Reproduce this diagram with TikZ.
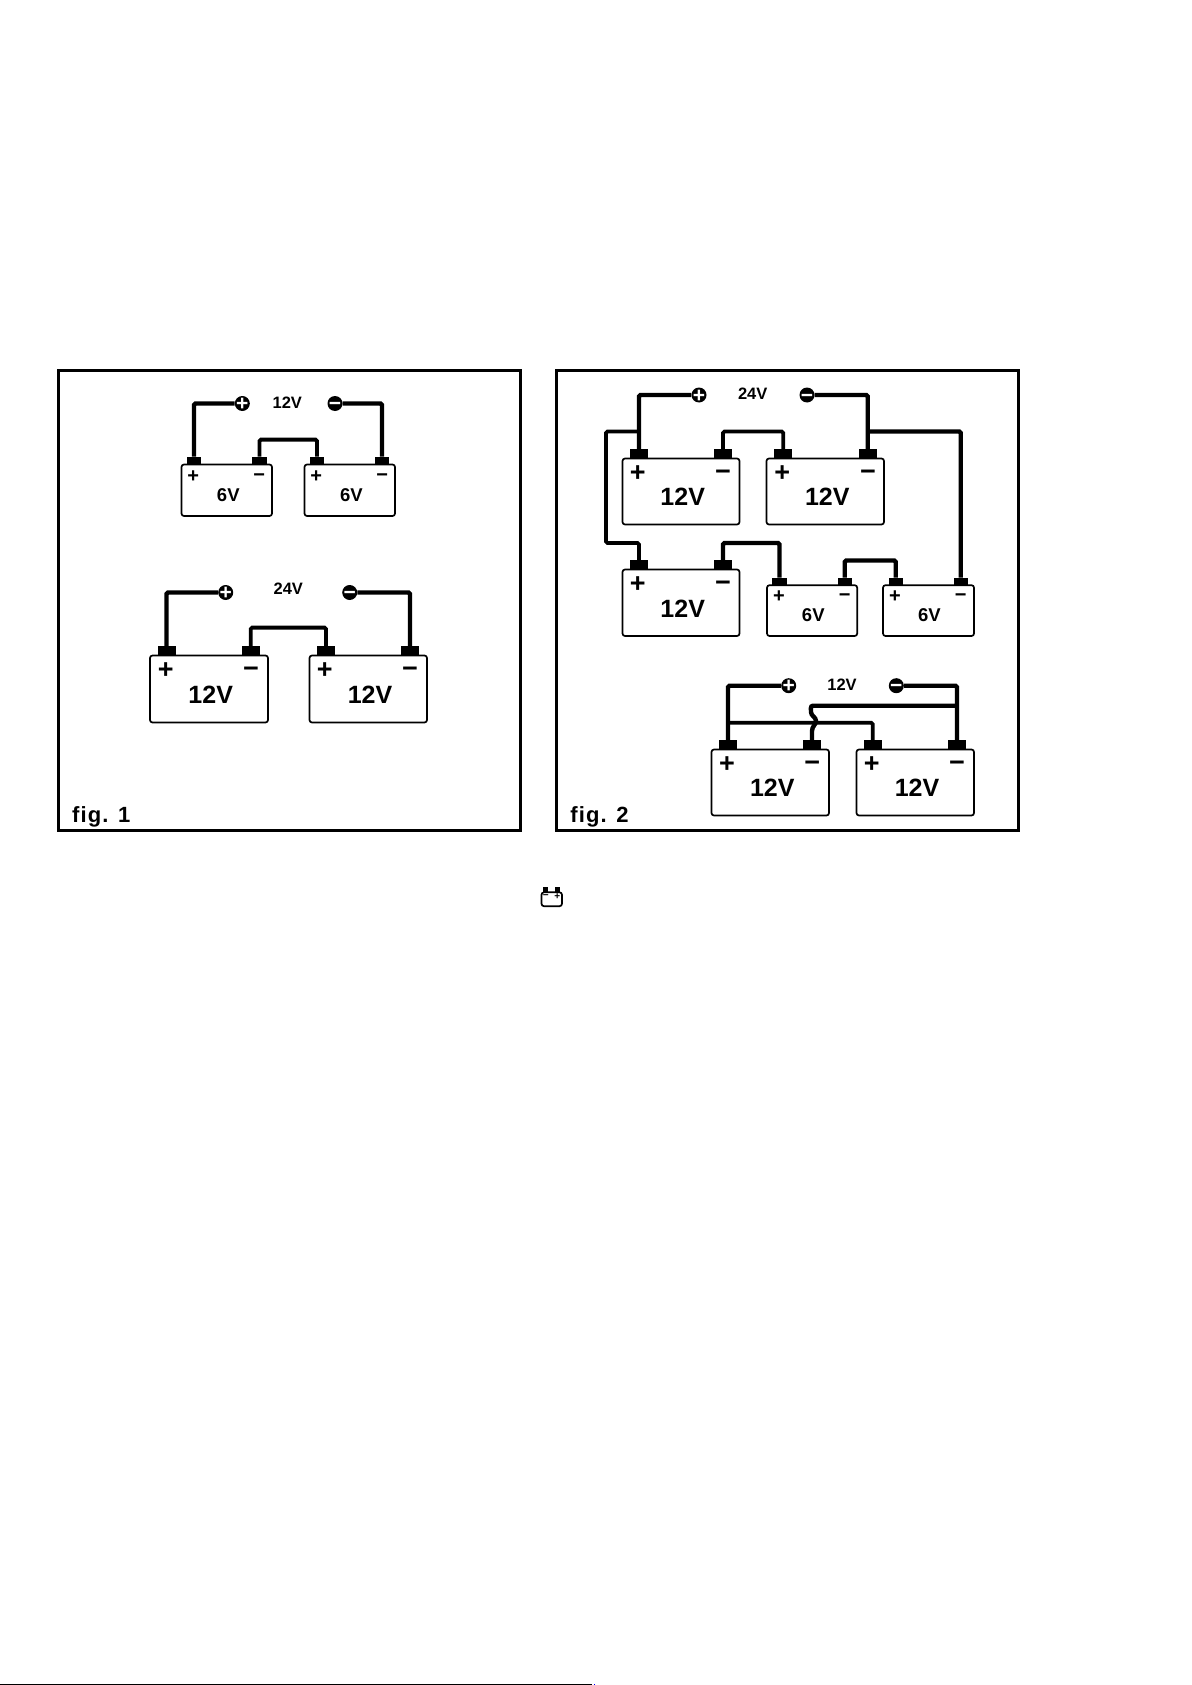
\documentclass[tikz,border=0pt]{standalone}
\usepackage{fontspec}
\setmainfont{Liberation Sans}
\usetikzlibrary{calc}
\newcommand\sgn[1]{\raisebox{-.34em}[0pt][0pt]{#1}}
\newcommand\polesign[1]{{\fontsize{21}{21}\selectfont\bfseries\sgn{#1}}}
\tikzset{
  x=1pt,y=-1pt,
  frame/.style={draw=black,line width=3pt,fill=none},
  batbox/.style={draw=black,line width=1.7pt,rounded corners=2.5pt,inner sep=0pt,fill=white},
  bigterm/.style={fill=black,inner sep=0pt,minimum width=18pt,minimum height=9pt,anchor=south},
  smallterm/.style={fill=black,inner sep=0pt,minimum width=14.3pt,minimum height=7pt,anchor=south},
  wire/.style={draw=black,line width=4.4pt,rounded corners=1.5pt},
  thinwire/.style={draw=black,line width=3.8pt,rounded corners=1.5pt},
  pole/.style={circle,fill=black,inner sep=0pt,minimum size=15pt,text=white},
  lab/.style={inner sep=0pt,font=\fontsize{16.5}{16.5}\selectfont\bfseries},
  bigv/.style={inner sep=0pt,font=\fontsize{25}{25}\selectfont\bfseries},
  smallv/.style={inner sep=0pt,font=\fontsize{18.5}{18.5}\selectfont\bfseries},
  bigsign/.style={inner sep=0pt,font=\fontsize{27}{27}\selectfont\bfseries},
  smallsign/.style={inner sep=0pt,font=\fontsize{20}{20}\selectfont\bfseries},
  iconsign/.style={inner sep=0pt,font=\fontsize{10}{10}\selectfont\bfseries},
  figlab/.style={inner sep=0pt,anchor=base west,font=\fontsize{22}{22}\selectfont\bfseries\addfontfeature{LetterSpace=5}},
}
\newcommand\bat[5]{%
  \pgfmathsetmacro\bw{#4-#2}\pgfmathsetmacro\bh{#5-#3}%
  \pgfmathsetmacro\bx{(#4+#2)/2}\pgfmathsetmacro\by{(#5+#3)/2}%
  \node[batbox,minimum width=\bw pt,minimum height=\bh pt] (#1) at (\bx,\by) {};}
\begin{document}
\begin{tikzpicture}
\useasboundingbox (0,0) rectangle (1191,1685);
\fill[white] (0,0) rectangle (1191,1685);
% frames
\node[frame,inner sep=0pt,minimum width=462pt,minimum height=459.5pt] (f1) at (289,600.5) {};
\node[frame,inner sep=0pt,minimum width=461.5pt,minimum height=459.5pt] (f2) at (787.5,600.5) {};
\node[figlab] (f1l) at (72,822.5) {fig. 1};
\node[figlab] (f2l) at (570.2,822.5) {fig. 2};
% ---- fig 1 top
\bat{a}{181.5}{464.5}{272}{516}
\bat{b}{304.5}{464.5}{395}{516}
\node[smallterm] (ap) at (194,464) {};
\node[smallterm] (am) at (259.5,464) {};
\node[smallterm] (bp) at (317,464) {};
\node[smallterm] (bm) at (382,464) {};
\node[pole] (c1p) at (242.3,403.5) {\polesign{+}};
\node[pole] (c1m) at (335,403.5) {\polesign{−}};
\node[lab] (l1) at (287.3,402.3) {12V};
\draw[wire] (ap.north) |- (c1p.west);
\draw[wire] (bm.north) |- (c1m.east);
\draw[thinwire] (am.north) -- ++(0,-17) -| (bp.north);
\node[smallsign] at (193.3,475.3) {\sgn{+}};
\node[smallsign] at (259.3,474.3) {\sgn{−}};
\node[smallsign] at (316.3,475.3) {\sgn{+}};
\node[smallsign] at (382.3,474.3) {\sgn{−}};
\node[smallv] at (228.3,495) {6V};
\node[smallv] at (351.5,495) {6V};
% ---- fig 1 bottom
\bat{d}{150}{655.5}{268}{722.5}
\bat{e}{309.5}{655.5}{427}{722.5}
\node[bigterm] (dp) at (166.5,655.5) {};
\node[bigterm] (dm) at (250.7,655.5) {};
\node[bigterm] (ep) at (326,655.5) {};
\node[bigterm] (em) at (410,655.5) {};
\node[pole] (c2p) at (225.7,592.5) {\polesign{+}};
\node[pole] (c2m) at (349.7,592.5) {\polesign{−}};
\node[lab] (l2) at (288.3,588.3) {24V};
\draw[wire] (dp.north) |- (c2p.west);
\draw[wire] (em.north) |- (c2m.east);
\draw[thinwire] (dm.north) -- ++(0,-18.5) -| (ep.north);
\node[bigsign] at (165.7,669.3) {\sgn{+}};
\node[bigsign] at (251,668.3) {\sgn{−}};
\node[bigsign] at (324.7,669.3) {\sgn{+}};
\node[bigsign] at (410,668.3) {\sgn{−}};
\node[bigv] at (210.7,694.3) {12V};
\node[bigv] at (370,694.3) {12V};
% ---- fig 2 top
\bat{A}{622.5}{458.5}{739.5}{524.5}
\bat{B}{766.5}{458.5}{884}{524.5}
\bat{C}{622.5}{569.5}{739.5}{636}
\bat{D}{767}{585.2}{857.2}{636}
\bat{E}{883}{585.2}{974}{636}
\node[bigterm] (Ap) at (639,458.5) {};
\node[bigterm] (Am) at (723,458.5) {};
\node[bigterm] (Bp) at (783.3,458.5) {};
\node[bigterm] (Bm) at (867.7,458.5) {};
\node[bigterm] (Cp) at (639,569.5) {};
\node[bigterm] (Cm) at (723,569.5) {};
\node[smallterm] (Dp) at (779.5,585) {};
\node[smallterm] (Dm) at (844.7,585) {};
\node[smallterm] (Ep) at (895.7,585) {};
\node[smallterm] (Em) at (960.7,585) {};
\node[pole] (c3p) at (699,395) {\polesign{+}};
\node[pole] (c3m) at (807,395) {\polesign{−}};
\node[lab] (l3) at (752.7,393.3) {24V};
\draw[wire] (Ap.north) |- (c3p.west);
\draw[wire] (Bm.north) |- (c3m.east);
\coordinate (j1) at (Ap.north |- 0,431.5);
\coordinate (j2) at (Bm.north |- 0,431.5);
\draw[thinwire] (j1) -- (606,431.5) -- (606,543) -| (Cp.north);
\draw[thinwire] (Am.north) -- (723,431.5) -| (Bp.north);
\draw[wire] (j2) -| (Em.north);
\draw[wire] (Cm.north) -- (723,543) -| (Dp.north);
\draw[wire] (Dm.north) -- (844.7,560.5) -| (Ep.north);
\node[bigsign] at (637.7,472) {\sgn{+}};
\node[bigsign] at (723,471) {\sgn{−}};
\node[bigsign] at (782.3,472) {\sgn{+}};
\node[bigsign] at (868,471) {\sgn{−}};
\node[bigsign] at (637.7,583.3) {\sgn{+}};
\node[bigsign] at (723,582.3) {\sgn{−}};
\node[smallsign] at (779,595.7) {\sgn{+}};
\node[smallsign] at (844.7,595) {\sgn{−}};
\node[smallsign] at (895,595.7) {\sgn{+}};
\node[smallsign] at (960.7,595) {\sgn{−}};
\node[bigv] at (682.7,496.7) {12V};
\node[bigv] at (827.3,496.7) {12V};
\node[bigv] at (682.7,608.3) {12V};
\node[smallv] at (813.3,615) {6V};
\node[smallv] at (929.3,615) {6V};
% ---- fig 2 bottom
\bat{F}{711.5}{749.5}{829}{815.5}
\bat{G}{856.5}{749.5}{974}{815.5}
\node[bigterm] (Fp) at (728,749.2) {};
\node[bigterm] (Fm) at (812,749.2) {};
\node[bigterm] (Gp) at (872.7,749.2) {};
\node[bigterm] (Gm) at (957,749.2) {};
\node[pole] (c4p) at (788.7,685.7) {\polesign{+}};
\node[pole] (c4m) at (896.3,685.7) {\polesign{−}};
\node[lab] (l4) at (842,684.3) {12V};
\draw[wire] (Fp.north) |- (c4p.west);
\draw[wire] (Gm.north) |- (c4m.east);
\coordinate (j3) at (Fp.north |- 0,722.7);
\coordinate (j4) at (Gm.north |- 0,705.7);
\draw[thinwire] (j3) -| (Gp.north);
\draw[wire,rounded corners=0pt] (j4) -- (813,705.7) .. controls (810,705.7) and (811,710) .. (811,712)
  .. controls (811,716) and (816,717) .. (816,721)
  .. controls (816,725) and (812,726) .. (812,731) -- (Fm.north);
\node[bigsign] at (727,763.3) {\sgn{+}};
\node[bigsign] at (812.3,762.3) {\sgn{−}};
\node[bigsign] at (871.7,763.3) {\sgn{+}};
\node[bigsign] at (957,762.3) {\sgn{−}};
\node[bigv] at (772.3,787.7) {12V};
\node[bigv] at (917,787.7) {12V};
% ---- small battery icon
\bat{H}{541.5}{892.3}{562}{906.2}
\node[fill=black,inner sep=0pt,minimum width=4.5pt,minimum height=4.5pt,anchor=south] (Hm) at (545.5,892) {};
\node[fill=black,inner sep=0pt,minimum width=4.5pt,minimum height=4.5pt,anchor=south] (Hp) at (557.5,892) {};
\node[iconsign] at (545.7,895.3) {\sgn{−}};
\node[iconsign] at (557.3,895.7) {\sgn{+}};
% ---- bottom rule
\coordinate (r1) at (0,1684.2);
\coordinate (r2) at (592,1684.2);
\draw[black,line width=1.2pt] (r1) -- (r2);
\fill[blue] (593.7,1683.6) rectangle (595,1684.9);
\end{tikzpicture}
\end{document}
